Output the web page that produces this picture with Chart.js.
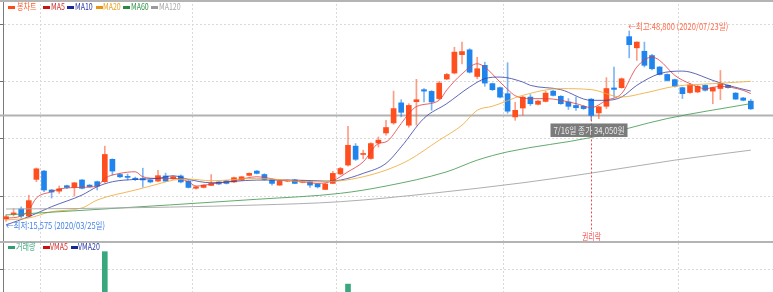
<!DOCTYPE html>
<html lang="ko">
<head>
<meta charset="utf-8">
<title>봉차트</title>
<script src="https://cdn.jsdelivr.net/npm/chart.js@4.4.1/dist/chart.umd.min.js"></script>
<style>
  html, body { margin: 0; padding: 0; background: #fff; }
  body {
    width: 773px;
    height: 292px;
    overflow: hidden;
    position: relative;
    font-family: "Noto Sans CJK KR", "DejaVu Sans", sans-serif;
  }
  #main { position: absolute; left: 0; top: 0; }
  #vol { position: absolute; left: 0; top: 243px; }
  .rule { position: absolute; left: 0; width: 773px; background: #b4b4b4; }
  .legend { position: absolute; left: 0; width: 300px; height: 12px; }
  .legend i { position: absolute; width: 7px; height: 3px; }
  .legend span {
    position: absolute;
    top: 0;
    font-size: 9px;
    line-height: 12px;
    white-space: nowrap;
    transform: scaleX(0.78);
    transform-origin: left center;
  }
</style>
</head>
<body>
<canvas id="main" width="773" height="242"></canvas>
<canvas id="vol" width="773" height="87"></canvas>
<div class="rule" style="top:0;height:2px"></div>
<div class="rule" style="top:241px;height:2px"></div>
<div class="legend" id="legMain" style="top:1px"></div>
<div class="legend" id="legVol" style="top:241px"></div>

<script>
// trading days shown (2020)
const marDays = [25, 26, 27, 30, 31];
const aprDays = [1, 2, 3, 6, 7, 8, 9, 10, 13, 14, 16, 17, 20, 21, 22, 23, 24, 27, 28, 29];
const mayDays = [4, 6, 7, 8, 11, 12, 13, 14, 15, 18, 19, 20, 21, 22, 25, 26, 27, 28, 29];
const junDays = [1, 2, 3, 4, 5, 8, 9, 10, 11, 12, 15, 16, 17, 18, 19, 22, 23, 24, 25, 26, 29, 30];
const julDays = [1, 2, 3, 6, 7, 8, 9, 10, 13, 14, 15, 16, 17, 20, 21, 22, 23, 24, 27, 28, 29, 30, 31];
const augDays = [3, 4, 5, 6, 7, 10, 11, 12, 13, 14];

const dates = [];
[[3, marDays], [4, aprDays], [5, mayDays], [6, junDays], [7, julDays], [8, augDays]].forEach(([m, days]) => {
  days.forEach((d) => dates.push(`2020/${String(m).padStart(2, "0")}/${String(d).padStart(2, "0")}`));
});

// OHLC (원)
const open = [16000,16800,17750,16500,22900,24350,21050,20850,21800,21500,
  22800,21900,22500,22500,26400,23750,23350,23100,23050,22800,
  22600,23500,23000,23500,22600,21350,21500,21850,22450,22650,
  22450,22800,23600,24350,23750,22800,21900,22600,22800,22400,
  22500,22100,21150,22200,23850,25400,28700,27250,26550,29250,
  31000,32750,36250,32350,36450,38550,38250,37000,40400,41450,
  44650,45500,40850,42800,39600,38900,37850,33800,35350,37250,
  36000,36500,38300,37400,36400,35800,35650,36900,34500,35650,
  38850,38900,47800,45850,45250,44500,42500,41200,40300,38900,
  38050,38150,39300,38300,38750,39300,37950,37100,36550];
const high = [16700,17800,18100,20150,24900,24500,21150,21750,21900,22400,
  22850,22000,22600,28700,26500,23900,23850,23300,24850,22900,
  24500,24000,23500,23700,22700,21700,22000,23750,22500,22750,
  23300,23450,24050,24450,23900,22850,22700,22800,22900,22700,
  22600,22150,22200,24300,25000,32150,29150,28000,29300,30300,
  33200,38300,36800,36100,40350,38750,38400,40000,41400,45950,
  46850,45700,44200,43350,39700,39000,43250,36350,37400,37700,
  36700,38300,38450,37500,37000,37250,35800,37000,35650,40650,
  42500,40600,48800,46900,46850,44700,42600,41300,40400,39000,
  39600,39300,39400,39000,41900,39400,38050,37200,36850];
const low = [15575,16500,16200,16300,22500,20750,19650,20450,21300,20000,
  21250,21500,21050,22300,23650,23200,22800,22700,21550,22300,
  22500,22500,22900,22300,21400,21200,21400,21800,22000,22100,
  22350,22700,23500,23850,22800,21900,21850,22500,22150,22300,
  21500,21400,21100,22150,23700,25200,26200,26500,26400,28550,
  30600,32500,33800,32000,32350,36400,34950,36800,40300,41300,
  43050,41450,40450,39150,38400,37100,34450,33200,34100,35800,
  35900,36400,37450,36000,35100,34950,35100,33200,33500,35250,
  37250,38800,44100,43650,42500,42000,41100,40050,39000,37000,
  37900,38000,38300,36100,36800,38800,36850,36600,35100];
const close = [16400,17050,16500,19200,24750,21050,20700,21250,21500,22300,
  21350,21650,21750,27250,24350,23350,23250,22850,22800,22450,
  23550,22600,23350,22450,21500,21600,21900,22200,22100,22200,
  23200,23350,23950,23950,22900,22200,22600,22700,22200,22600,
  21900,21600,22100,23950,24800,28850,26400,27350,29150,29750,
  31950,35250,34600,35800,36800,38300,36400,39700,41200,45100,
  45200,41600,42200,39700,38550,37250,34800,34950,37250,36100,
  36550,37950,37550,36100,35650,35400,35250,34050,35550,38750,
  38600,40450,46400,46850,42800,42200,41200,40150,39150,37850,
  39400,39150,38450,38900,39600,38900,36900,36700,35200];

// 거래량 (주)
const volume = [4200000,3100000,3600000,7800000,11500000,9400000,5200000,3300000,2600000,3900000,
  3400000,2100000,2500000,26100000,11900000,4800000,3000000,2200000,3600000,2000000,
  3800000,3100000,1900000,2800000,3300000,2200000,1800000,3500000,1700000,1900000,
  2600000,2400000,2700000,2900000,3000000,2500000,2100000,1600000,1900000,1500000,
  2000000,1900000,2300000,4600000,5200000,15300000,9800000,5100000,7400000,5600000,
  8100000,11200000,9300000,8700000,10400000,6300000,7200000,8400000,6900000,10900000,
  9600000,9900000,7300000,8200000,5400000,5000000,8800000,6100000,5900000,4600000,
  3500000,4300000,3900000,3700000,3400000,2900000,2600000,5800000,4100000,7600000,
  6800000,6200000,10600000,8300000,7900000,6700000,4800000,4200000,3900000,4400000,
  4100000,3300000,3000000,3600000,4700000,2700000,3800000,2500000,3400000];

// moving averages: [day index, 원]
const ma5 = [[0,16120],[2,16520],[3,17570],[4,19650],[6,20750],[7,21220],[10,21510],[12,21740],[13,23080],
  [15,23950],[17,24230],[18,23360],[20,23080],[22,23080],[24,22490],[25,21740],[27,22090],[30,22660],
  [33,23360],[36,22780],[39,22490],[41,22200],[43,22660],[45,24230],[47,25960],[49,29160],[50,29440],
  [52,32640],[53,34380],[54,35600],[57,36690],[58,38500],[60,41300],[62,43070],[63,42490],[65,39880],
  [66,38600],[67,37500],[69,36990],[71,36990],[75,36120],[77,35420],[79,36690],[81,37860],[83,42490],
  [85,44220],[86,43650],[88,41040],[90,39600],[92,38730],[94,39130],[97,38430],[98,37860]];
const ma10 = [[0,14960],[3,16400],[6,18140],[10,20170],[12,21620],[14,22490],[17,22900],[20,23080],
  [22,23530],[24,22900],[27,22310],[33,22780],[38,22780],[42,22610],[44,22780],[47,23950],[50,25690],
  [52,28570],[55,33560],[58,36120],[61,39010],[63,40470],[65,40750],[68,39880],[69,39300],[73,38560],
  [77,36690],[79,36690],[81,37270],[83,39300],[86,41340],[89,41790],[90,41620],[93,40170],[95,39300],[98,38310]];
const ma20 = [[0,15830],[3,16170],[6,17270],[10,17910],[12,19300],[17,21040],[20,22090],[22,22780],
  [24,22960],[27,22660],[33,23080],[40,22490],[44,22660],[47,23360],[50,24520],[53,26260],[57,29740],
  [60,32350],[62,34960],[64,35650],[68,37560],[73,38730],[77,38560],[81,37270],[84,37960],[88,39130],
  [93,39600],[98,40000]];
const ma60 = [[0,16700],[10,17500],[33,19430],[44,20470],[50,21740],[58,24230],[62,26260],[66,27700],
  [77,30210],[87,33510],[98,36120]];
const ma120 = [[0,17740],[10,17830],[33,18430],[44,19010],[56,20470],[68,22310],[77,24000],[88,26260],[98,28000]];

const priceTicks = [20000, 30000, 40000, 50000];
const volumeTicks = [10000000, 20000000];

const highIdx = 82;   // 최고 48,800
const lowIdx = 0;     // 최저 15,575
const markIdx = 77;   // 7/16 권리락

const UP = "#ff4f1e";
const DOWN = "#1f84ee";
const UP_WICK = "rgba(255,90,50,0.6)";
const DOWN_WICK = "rgba(40,130,240,0.6)";

// vertical grid at the first trading day of each month
const monthGrid = [];
dates.forEach((d, i) => {
  if (i > 0 && d.slice(5, 7) !== dates[i - 1].slice(5, 7)) monthGrid.push(i - 0.5);
});

const X_MIN = -0.395;
const X_MAX = X_MIN + 770 / 7.6;

const isUp = (i) => close[i] >= open[i];
const fmt = (v) => v.toLocaleString("en-US");

function xScale() {
  return {
    type: "linear",
    min: X_MIN,
    max: X_MAX,
    offset: false,
    afterBuildTicks: (s) => { s.ticks = monthGrid.map((v) => ({ value: v })); },
    afterFit: (s) => { s.height = 0; },
    ticks: { display: false },
    border: { display: false, dash: [2, 2] },
    grid: { color: "#d9d9d9", drawTicks: false, offset: false },
  };
}

function yScale(min, max, ticks) {
  return {
    min,
    max,
    position: "left",
    afterBuildTicks: (s) => { s.ticks = ticks.map((v) => ({ value: v })); },
    afterFit: (s) => { s.width = 3; },
    ticks: { display: false },
    border: { display: true, color: "#7a7a7a", width: 1, dash: [2, 2] },
    grid: { color: "#d9d9d9", tickColor: "#707070", tickLength: 3, tickBorderDash: [] },
  };
}

function maLine(label, pts, color) {
  return {
    type: "line",
    label,
    data: pts.map(([x, y]) => ({ x, y })),
    borderColor: color,
    borderWidth: 1,
    pointRadius: 0,
    cubicInterpolationMode: "monotone",
    order: 0,
  };
}

const marks = {
  id: "marks",
  beforeDatasetsDraw(chart) {
    const { ctx } = chart;
    const y = chart.scales.y.getPixelForValue(close[markIdx]);
    ctx.save();
    ctx.strokeStyle = "#b2b2b2";
    ctx.lineWidth = 2;
    ctx.beginPath();
    ctx.moveTo(0, y);
    ctx.lineTo(chart.width, y);
    ctx.stroke();
    ctx.restore();
  },
  afterDatasetsDraw(chart) {
    const { ctx } = chart;
    const xs = chart.scales.x;
    const ys = chart.scales.y;
    ctx.save();
    ctx.font = "9px 'Noto Sans CJK KR', sans-serif";
    ctx.textBaseline = "middle";

    // 최고 / 최저
    const hx = xs.getPixelForValue(highIdx);
    const hy = ys.getPixelForValue(high[highIdx]);
    ctx.fillStyle = "#ff6a48";
    ctx.textAlign = "left";
    ctx.fillText(`←최고:${fmt(high[highIdx])} (${dates[highIdx]}일)`, hx - 1, hy - 4, 100);

    const lx = xs.getPixelForValue(lowIdx);
    const ly = ys.getPixelForValue(low[lowIdx]);
    ctx.fillStyle = "#3f7fe6";
    ctx.fillText(`←최저:${fmt(low[lowIdx])} (${dates[lowIdx]}일)`, lx, ly + 4, 99);

    // 권리락 marker
    const mx = Math.round(xs.getPixelForValue(markIdx)) + 0.5;
    const my = ys.getPixelForValue(close[markIdx]);
    ctx.strokeStyle = "#f04848";
    ctx.lineWidth = 1;
    ctx.setLineDash([2, 2]);
    ctx.beginPath();
    ctx.moveTo(mx, my);
    ctx.lineTo(mx, 232);
    ctx.stroke();
    ctx.setLineDash([]);
    ctx.fillStyle = "#ff5050";
    ctx.textAlign = "center";
    ctx.fillText("권리락", mx, 237, 19);

    // close price box
    const [, mm, dd] = dates[markIdx].split("/");
    const label = `${Number(mm)}/${Number(dd)}일 종가 ${fmt(close[markIdx])}원`;
    ctx.fillStyle = "rgba(112,112,112,0.92)";
    ctx.fillRect(mx - 41, my + 8, 77, 13.5);
    ctx.fillStyle = "#ececec";
    ctx.fillText(label, mx - 2.5, my + 15, 71);
    ctx.restore();
  },
};

new Chart(document.getElementById("main"), {
  type: "bar",
  data: {
    datasets: [
      maLine("MA120", ma120, "rgba(170,170,170,0.95)"),
      maLine("MA60", ma60, "rgba(70,155,85,0.85)"),
      maLine("MA20", ma20, "rgba(240,172,60,0.85)"),
      maLine("MA10", ma10, "rgba(55,65,165,0.8)"),
      maLine("MA5", ma5, "rgba(225,60,60,0.8)"),
      {
        label: "wick",
        data: dates.map((_, i) => ({ x: i, y: [low[i], high[i]] })),
        backgroundColor: dates.map((_, i) => (isUp(i) ? UP_WICK : DOWN_WICK)),
        barThickness: 1,
        grouped: false,
        order: 2,
      },
      {
        label: "봉차트",
        data: dates.map((_, i) => ({ x: i, y: [open[i], close[i]] })),
        backgroundColor: dates.map((_, i) => (isUp(i) ? UP : DOWN)),
        barThickness: 5,
        minBarLength: 1,
        grouped: false,
        order: 1,
      },
    ],
  },
  options: {
    responsive: false,
    animation: false,
    events: [],
    layout: { padding: 0 },
    plugins: { legend: { display: false }, tooltip: { enabled: false } },
    scales: { x: xScale(), y: yScale(11980, 54190, priceTicks) },
  },
  plugins: [marks],
});

new Chart(document.getElementById("vol"), {
  type: "bar",
  data: {
    datasets: [
      {
        label: "거래량",
        data: dates.map((_, i) => ({ x: i, y: volume[i] })),
        backgroundColor: "#3aa87e",
        barThickness: 5,
      },
    ],
  },
  options: {
    responsive: false,
    animation: false,
    events: [],
    layout: { padding: 0 },
    plugins: { legend: { display: false }, tooltip: { enabled: false } },
    scales: { x: xScale(), y: yScale(0, 29000000, volumeTicks) },
  },
});

// legends
const mainLegend = [
  ["봉차트", "#ff4a14", "#ff5a2a", 8, 17],
  ["MA5", "#cc1111", "#d42a2a", 43, 51],
  ["MA10", "#1a2696", "#2a38a8", 67, 75],
  ["MA20", "#e69512", "#eaa020", 96, 103],
  ["MA60", "#2a8a3e", "#2f9447", 123, 131],
  ["MA120", "#9a9a9a", "#a8a8a8", 151, 159],
];
const volLegend = [
  ["거래량", "#2f9e72", "#3aa87e", 8, 16],
  ["VMA5", "#cc1111", "#d42a2a", 43, 50],
  ["VMA20", "#1a2696", "#2a38a8", 71, 78],
];
function buildLegend(el, items, markTop) {
  items.forEach(([name, mark, text, mx, tx]) => {
    const i = document.createElement("i");
    i.style.cssText = `left:${mx}px;top:${markTop}px;background:${mark}`;
    const s = document.createElement("span");
    s.style.cssText = `left:${tx}px;color:${text}`;
    s.textContent = name;
    el.appendChild(i);
    el.appendChild(s);
  });
}
buildLegend(document.getElementById("legMain"), mainLegend, 5);
buildLegend(document.getElementById("legVol"), volLegend, 5);
</script>
</body>
</html>
